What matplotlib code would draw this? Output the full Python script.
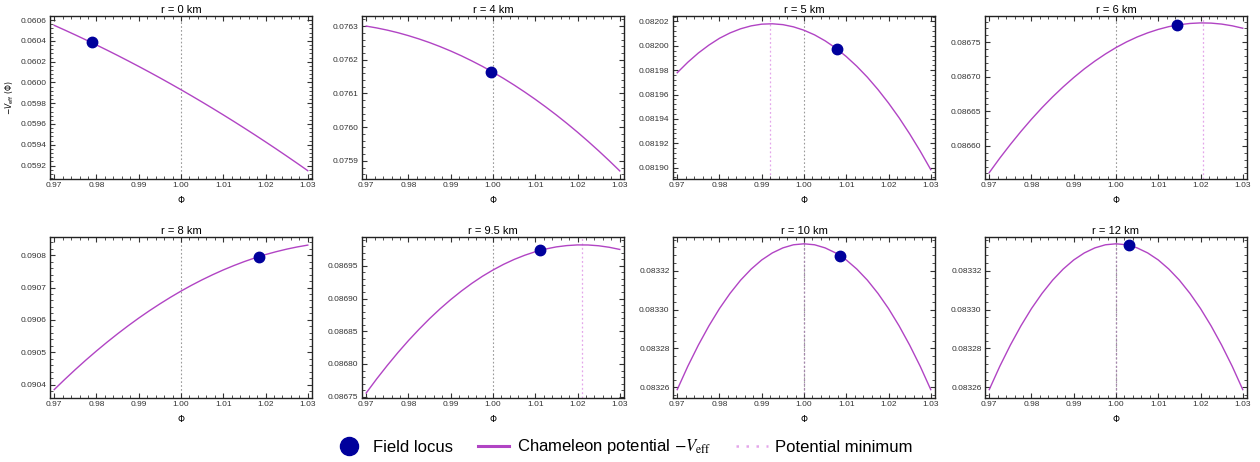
"""
Chameleon effective potential -V_eff(Phi) at several radii,
with the field locus and the potential minimum marked
"""

import matplotlib
matplotlib.use("Agg")
import matplotlib.pyplot as plt
from matplotlib.lines import Line2D
from matplotlib.ticker import AutoMinorLocator, FormatStrFormatter, MultipleLocator

plt.rcParams["font.family"] = ["Liberation Sans", "DejaVu Sans"]

# values
phi = [0.9700, 0.9725, 0.9750, 0.9775, 0.9800, 0.9825, 0.9850, 0.9875, 0.9900,
       0.9925, 0.9950, 0.9975, 1.0000, 1.0025, 1.0050, 1.0075, 1.0100, 1.0125,
       1.0150, 1.0175, 1.0200, 1.0225, 1.0250, 1.0275, 1.0300]

titles = ["r = 0 km", "r = 4 km", "r = 5 km", "r = 6 km",
          "r = 8 km", "r = 9.5 km", "r = 10 km", "r = 12 km"]

v_r0 = [0.0605499, 0.0605044, 0.0604577, 0.0604099, 0.0603610, 0.0603111, 0.0602600,
        0.0602077, 0.0601544, 0.0601000, 0.0600445, 0.0599877, 0.0599300, 0.0598711,
        0.0598111, 0.0597500, 0.0596878, 0.0596245, 0.0595600, 0.0594945, 0.0594278,
        0.0593601, 0.0592911, 0.0592212, 0.0591501]
v_r4 = [0.0763000, 0.0762945, 0.0762880, 0.0762804, 0.0762716, 0.0762618, 0.0762510,
        0.0762390, 0.0762260, 0.0762119, 0.0761966, 0.0761804, 0.0761630, 0.0761446,
        0.0761250, 0.0761043, 0.0760826, 0.0760598, 0.0760360, 0.0760110, 0.0759850,
        0.0759578, 0.0759296, 0.0759003, 0.0758700]
v_r5 = [0.0819779, 0.0819865, 0.0819941, 0.0820006, 0.0820062, 0.0820106, 0.0820140,
        0.0820164, 0.0820178, 0.0820181, 0.0820174, 0.0820156, 0.0820128, 0.0820090,
        0.0820041, 0.0819982, 0.0819912, 0.0819832, 0.0819742, 0.0819641, 0.0819530,
        0.0819409, 0.0819277, 0.0819135, 0.0818983]
v_r6 = [0.0865612, 0.0865822, 0.0866020, 0.0866208, 0.0866386, 0.0866553, 0.0866709,
        0.0866854, 0.0866989, 0.0867114, 0.0867227, 0.0867330, 0.0867423, 0.0867505,
        0.0867576, 0.0867636, 0.0867686, 0.0867726, 0.0867754, 0.0867772, 0.0867780,
        0.0867777, 0.0867763, 0.0867738, 0.0867703]
v_r8 = [0.0903850, 0.0904165, 0.0904469, 0.0904762, 0.0905043, 0.0905313, 0.0905572,
        0.0905820, 0.0906057, 0.0906282, 0.0906495, 0.0906698, 0.0906890, 0.0907070,
        0.0907239, 0.0907396, 0.0907543, 0.0907678, 0.0907802, 0.0907915, 0.0908017,
        0.0908106, 0.0908185, 0.0908253, 0.0908310]
v_r95 = [0.0867557, 0.0867774, 0.0867979, 0.0868174, 0.0868358, 0.0868530, 0.0868693,
         0.0868844, 0.0868984, 0.0869113, 0.0869232, 0.0869340, 0.0869436, 0.0869522,
         0.0869597, 0.0869661, 0.0869715, 0.0869757, 0.0869789, 0.0869809, 0.0869819,
         0.0869818, 0.0869806, 0.0869783, 0.0869750]
v_r10 = [0.0832588, 0.0832708, 0.0832817, 0.0832916, 0.0833005, 0.0833083, 0.0833151,
         0.0833208, 0.0833255, 0.0833291, 0.0833317, 0.0833333, 0.0833338, 0.0833333,
         0.0833317, 0.0833291, 0.0833255, 0.0833208, 0.0833151, 0.0833083, 0.0833005,
         0.0832916, 0.0832817, 0.0832708, 0.0832588]
v_r12 = [0.0832588, 0.0832708, 0.0832817, 0.0832916, 0.0833005, 0.0833083, 0.0833151,
         0.0833208, 0.0833255, 0.0833291, 0.0833317, 0.0833333, 0.0833338, 0.0833333,
         0.0833317, 0.0833291, 0.0833255, 0.0833208, 0.0833151, 0.0833083, 0.0833005,
         0.0832916, 0.0832817, 0.0832708, 0.0832588]
curves = [v_r0, v_r4, v_r5, v_r6, v_r8, v_r95, v_r10, v_r12]

locus_phi = [0.9790, 0.9995, 1.0077, 1.0145, 1.0184, 1.0111, 1.0086, 1.0030]
locus_v = [0.060386, 0.076165, 0.0819977, 0.0867750, 0.090795, 0.0869735, 0.0833276, 0.0833331]

min_phi = [None, None, 0.992, 1.0205, None, 1.021, 1.000, 1.000]   # None: no minimum in range

# axis ranges and tick steps
y_lims = [(0.05907, 0.06064), (0.075846, 0.07633), (0.0818906, 0.0820245), (0.086552, 0.086788),
          (0.090359, 0.090856), (0.086748, 0.086994), (0.0832545, 0.0833373), (0.0832545, 0.0833373)]
y_steps = [0.0002, 0.0001, 0.00002, 0.00005, 0.0001, 0.00005, 0.00002, 0.00002]
y_fmts = ["%.4f", "%.4f", "%.5f", "%.5f", "%.4f", "%.5f", "%.5f", "%.5f"]

curve_col = "#b144c4"
locus_col = "#00009c"
min_col = "#e4a6ea"
ref_col = "#9a9a9a"

fig = plt.figure(figsize=(12.6, 4.62), dpi=100)

lefts = [50, 362, 673, 985]
rows = [(16, 179), (237, 398)]      # top and bottom of each row, pixels
W, H = 1260, 462

for i in range(8):
    top, bot = rows[i // 4]
    ax = fig.add_axes([lefts[i % 4] / W, 1 - bot / H, 262 / W, (bot - top) / H])

    ax.axvline(1.0, color=ref_col, ls=(0, (1.5, 2)), lw=0.8, zorder=1)
    if min_phi[i] is not None:
        # where the minimum sits on Phi = 1 the two dotted lines blend to a grey purple
        blend = abs(min_phi[i] - 1.0) < 1e-4
        ax.axvline(min_phi[i], color="#a584ad" if blend else min_col,
                   ls=(0, (1.5, 2)), lw=0.9, zorder=1)

    ax.plot(phi, curves[i], color=curve_col, lw=1.0, zorder=2)
    ax.plot(locus_phi[i], locus_v[i], "o", color=locus_col, ms=7.5, zorder=3)

    ax.set_xlim(0.969, 1.031)
    ax.set_ylim(*y_lims[i])
    ax.xaxis.set_major_locator(MultipleLocator(0.01))
    ax.xaxis.set_major_formatter(FormatStrFormatter("%.2f"))
    ax.yaxis.set_major_locator(MultipleLocator(y_steps[i]))
    ax.yaxis.set_major_formatter(FormatStrFormatter(y_fmts[i]))
    ax.xaxis.set_minor_locator(AutoMinorLocator(5))
    ax.yaxis.set_minor_locator(AutoMinorLocator(5))
    ax.tick_params(which="both", direction="in", top=True, right=True,
                   labelsize=6, colors="#333333", pad=2.5)
    ax.tick_params(which="major", length=3.5, width=0.8)
    ax.tick_params(which="minor", length=2, width=0.6)
    for s in ax.spines.values():
        s.set_linewidth(1.0)
        s.set_color("#222222")

    ax.set_title(titles[i], fontsize=8, pad=2)
    ax.set_xlabel(r"$\Phi$", fontsize=6.5, labelpad=3)
    if i == 0:
        ax.set_ylabel(r"$-V_{\mathrm{eff}}\ (\Phi)$", fontsize=5.5, labelpad=3)

handles = [
    Line2D([], [], ls="none", marker="o", ms=13, color=locus_col),
    Line2D([], [], color=curve_col, lw=2.2),
    Line2D([], [], color=min_col, lw=1.8, ls=(0, (1, 3))),
]
labels = ["Field locus", r"Chameleon potential $-V_{\mathrm{eff}}$", "Potential minimum"]
leg = fig.legend(handles, labels, loc="center", bbox_to_anchor=(623 / W, 1 - 447 / H),
                 ncol=3, frameon=False, fontsize=12, handlelength=1.9,
                 handletextpad=0.45, columnspacing=1.5)
for t in leg.get_texts():
    t.set_math_fontfamily("stix")

fig.savefig("out.png", dpi=100)
